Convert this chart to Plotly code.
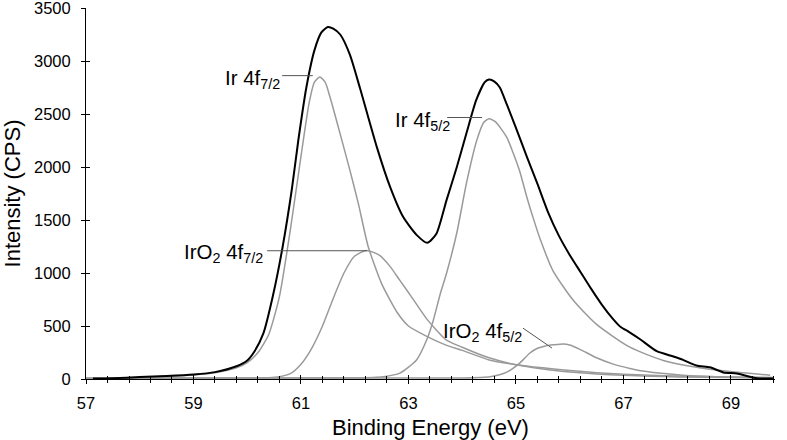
import plotly.graph_objects as go

# XPS Ir 4f region
# total envelope (black)
total_be = [57.13, 57.5, 58.0, 58.5, 59.0, 59.4, 59.8, 60.0, 60.14, 60.3, 60.48, 60.66,
            60.83, 60.95, 61.1, 61.25, 61.38, 61.5, 61.6, 61.73, 61.91, 62.1, 62.41, 62.66,
            62.9, 63.15, 63.35, 63.52, 63.71, 63.9, 64.08, 64.26, 64.42, 64.5, 64.6,
            64.7, 64.83, 65.0, 65.2, 65.4, 65.6, 65.8, 66.0, 66.2, 66.4, 66.6,
            66.8, 66.95, 67.1, 67.31, 67.62, 67.93, 68.11, 68.36, 68.61, 68.86, 69.11,
            69.3, 69.48, 69.78]
total_cps = [5, 8, 18, 28, 42, 65, 120, 175, 265, 430, 790, 1250,
             1790, 2250, 2750, 3100, 3270, 3320, 3305, 3250, 3060, 2740, 2190, 1810,
             1530, 1360, 1285, 1370, 1690, 2000, 2320, 2630, 2800, 2825, 2805,
             2750, 2590, 2370, 2100, 1840, 1570, 1350, 1170, 1010, 850, 700,
             570, 490, 445, 375, 262, 212, 180, 127, 110, 62, 52,
             28, 7, 5]

# Ir 4f7/2 component
ir72_be = [57.1, 58.0, 58.5, 59.0, 59.4, 59.8, 60.0, 60.2, 60.4, 60.6, 60.8, 61.0,
           61.15, 61.25, 61.35, 61.45, 61.54, 61.73, 61.91, 62.07, 62.25, 62.5, 62.8,
           63.0, 63.35, 63.7, 64.0, 64.5, 65.0, 65.5, 66.0, 66.5, 67.0, 67.5, 68.0,
           69.0, 69.8]
ir72_cps = [5, 15, 25, 38, 58, 105, 155, 250, 420, 780, 1400, 2100,
            2600, 2800, 2850, 2800, 2660, 2310, 1970, 1650, 1250, 900, 620,
            500, 400, 320, 270, 180, 135, 105, 80, 60, 45, 35, 28,
            18, 14]

# IrO2 4f7/2 component
iro72_be = [57.0, 60.0, 60.4, 60.6, 60.8, 61.0, 61.2, 61.4, 61.6, 61.8, 62.0, 62.22,
            62.45, 62.66, 62.84, 63.05, 63.35, 63.7, 64.0, 64.5, 65.0, 65.5, 66.0,
            66.5, 67.0, 67.5, 68.0, 69.0, 69.8]
iro72_cps = [8, 8, 12, 22, 50, 140, 290, 500, 760, 1000, 1160, 1212,
             1170, 1060, 930, 780, 560, 370, 300, 200, 135, 95, 65,
             48, 35, 27, 20, 13, 10]

# Ir 4f5/2 component
ir52_be = [57.0, 62.0, 62.53, 62.84, 63.15, 63.34, 63.46, 63.59, 63.71, 63.9, 64.08,
           64.27, 64.4, 64.5, 64.62, 64.83, 64.95, 65.07, 65.2, 65.32, 65.45, 65.69,
           66.07, 66.5, 67.12, 67.74, 68.36, 68.98, 69.73]
ir52_cps = [8, 10, 22, 55, 180, 370, 550, 800, 1000, 1380, 1850,
            2250, 2420, 2455, 2425, 2280, 2130, 1960, 1720, 1520, 1320, 1020,
            740, 515, 300, 175, 110, 70, 35]

# IrO2 4f5/2 component
iro52_be = [57.0, 64.0, 64.52, 64.83, 65.07, 65.26, 65.4, 65.55, 65.7, 65.88, 66.0,
            66.19, 66.5, 66.81, 67.12, 67.43, 68.05, 68.7, 69.8]
iro52_cps = [8, 10, 22, 65, 150, 245, 290, 312, 322, 330, 320,
             280, 200, 140, 100, 70, 38, 22, 12]

# label text, text anchor (right edge), leader line ends
labels = ['Ir 4f<sub>7/2</sub>', 'Ir 4f<sub>5/2</sub>',
          'IrO<sub>2</sub> 4f<sub>7/2</sub>', 'IrO<sub>2</sub> 4f<sub>5/2</sub>']
label_x = [60.65, 63.81, 60.33, 65.15]
label_y = [2834, 2438, 1186, 442]
lead_x0 = [60.65, 63.72, 60.37, 65.13]
lead_y0 = [2862, 2467, 1210, 480]
lead_x1 = [61.22, 64.37, 62.23, 65.67]
lead_y1 = [2862, 2467, 1210, 292]

FONT = 'Liberation Sans, Arial, Helvetica, sans-serif'
gray = '#9a9a9a'

fig = go.Figure()
for xs, ys in [(ir72_be, ir72_cps), (iro72_be, iro72_cps),
               (ir52_be, ir52_cps), (iro52_be, iro52_cps)]:
    fig.add_trace(go.Scatter(x=xs, y=ys, mode='lines',
                             line=dict(color=gray, width=1.5, shape='spline', smoothing=0.6),
                             showlegend=False, hoverinfo='skip'))
fig.add_trace(go.Scatter(x=total_be, y=total_cps, mode='lines', xaxis='x2', yaxis='y2',
                         line=dict(color='black', width=2, shape='spline', smoothing=0.6),
                         showlegend=False))

xr = [57, 69.82]
yr = [0, 3500]
tickfont = dict(family=FONT, size=16.5, color='black')

xcommon = dict(range=xr, tick0=57, dtick=2, ticklen=4, tickwidth=1, tickcolor='black',
               showgrid=False, zeroline=False, fixedrange=True)
ycommon = dict(range=yr, tick0=0, dtick=500, ticklen=4, tickwidth=1, tickcolor='black',
               showgrid=False, zeroline=False, fixedrange=True)

fig.update_layout(
    width=787, height=440,
    margin=dict(l=86, r=12, t=8, b=61, autoexpand=False),
    paper_bgcolor='white', plot_bgcolor='white',
    font=dict(family=FONT, color='black'),
    xaxis=dict(xcommon, ticks='outside', showline=True, linecolor='black', linewidth=1,
               tickfont=tickfont, ticklabelstandoff=5,
               minor=dict(dtick=0.4, tick0=57, ticks='outside', ticklen=3,
                          tickcolor='black', tickwidth=1),
               title=dict(text='Binding Energy (eV)', font=dict(family=FONT, size=22),
                          standoff=8)),
    yaxis=dict(ycommon, ticks='outside', showline=True, linecolor='black', linewidth=1,
               tickfont=tickfont, ticklabelstandoff=7, ticklabeloverflow='allow',
               title=dict(text='Intensity (CPS)', font=dict(family=FONT, size=22),
                          standoff=12)),
    xaxis2=dict(xcommon, overlaying='x', anchor='y2', ticks='inside', showticklabels=False,
                minor=dict(dtick=0.4, tick0=57, ticks='inside', ticklen=3,
                           tickcolor='black', tickwidth=1)),
    yaxis2=dict(ycommon, overlaying='y', anchor='x2', ticks='inside', showticklabels=False),
)

for i, txt in enumerate(labels):
    fig.add_annotation(x=label_x[i], y=label_y[i], text=txt, showarrow=False,
                       xanchor='right', yanchor='middle',
                       font=dict(family=FONT, size=20.5, color='black'))
    fig.add_shape(type='line', x0=lead_x0[i], y0=lead_y0[i], x1=lead_x1[i], y1=lead_y1[i],
                  xref='x', yref='y', line=dict(color='#555555', width=1))

# page body has a default 8px margin; drop it so the figure sits at the corner
fig.write_html('out.html', config={'displayModeBar': False},
               post_script="document.body.style.margin='0px';")
